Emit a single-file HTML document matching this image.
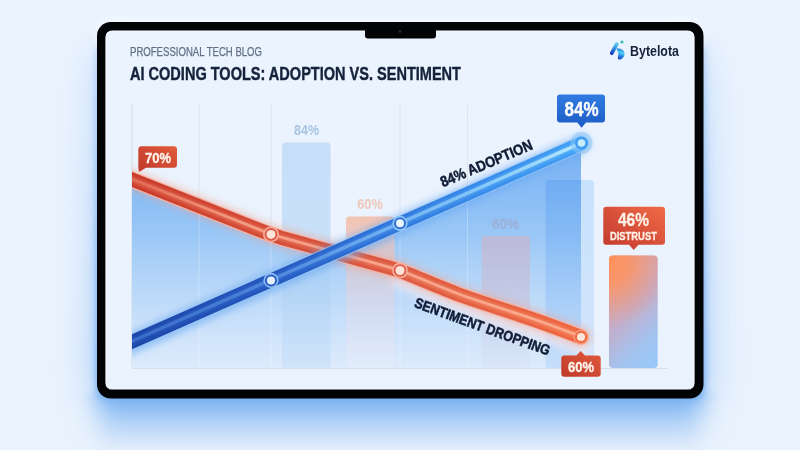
<!DOCTYPE html>
<html><head><meta charset="utf-8"><title>AI Coding Tools: Adoption vs. Sentiment</title>
<style>
html,body{margin:0;padding:0;width:800px;height:450px;overflow:hidden;background:#e9f2fd;}
svg{display:block;}
text{font-family:"Liberation Sans",Arial,sans-serif;}
</style></head>
<body>
<svg width="800" height="450" viewBox="0 0 800 450">
<defs>
  <linearGradient id="bg" x1="0" y1="0" x2="0" y2="1">
    <stop offset="0" stop-color="#ebf3fe"/>
    <stop offset="1" stop-color="#e9f2fd"/>
  </linearGradient>
  <filter id="blur8" x="-30%" y="-30%" width="160%" height="160%"><feGaussianBlur stdDeviation="19"/></filter>
  <linearGradient id="glowV" x1="0" y1="392" x2="0" y2="454" gradientUnits="userSpaceOnUse">
    <stop offset="0" stop-color="#6eaaf0"/>
    <stop offset="0.12" stop-color="#7cb3f1"/>
    <stop offset="0.5" stop-color="#b3d3f7"/>
    <stop offset="0.85" stop-color="#dde9fb"/>
    <stop offset="1" stop-color="#e6effc"/>
  </linearGradient>
  <linearGradient id="sideGlow" x1="0" y1="50" x2="0" y2="402" gradientUnits="userSpaceOnUse">
    <stop offset="0" stop-color="#5a9ef0" stop-opacity="0.45"/>
    <stop offset="0.5" stop-color="#5a9ef0" stop-opacity="0.8"/>
    <stop offset="1" stop-color="#5a9ef0" stop-opacity="1"/>
  </linearGradient>
  <filter id="blurH" x="-10%" y="-10%" width="120%" height="120%"><feGaussianBlur stdDeviation="12 3"/></filter>
  <filter id="blur16" x="-30%" y="-60%" width="160%" height="220%"><feGaussianBlur stdDeviation="13"/></filter>
  <clipPath id="chartClip"><rect x="132" y="90" width="560" height="300"/></clipPath>
  <filter id="blur20" x="-30%" y="-30%" width="160%" height="160%"><feGaussianBlur stdDeviation="14"/></filter>
  <filter id="blur3" x="-20%" y="-20%" width="140%" height="140%"><feGaussianBlur stdDeviation="3"/></filter>
  <filter id="blur2" x="-20%" y="-20%" width="140%" height="140%"><feGaussianBlur stdDeviation="2"/></filter>
  <filter id="blur05" x="-20%" y="-20%" width="140%" height="140%"><feGaussianBlur stdDeviation="0.5"/></filter>
  <filter id="blur07" x="-20%" y="-20%" width="140%" height="140%"><feGaussianBlur stdDeviation="0.7"/></filter>
  <filter id="blur4" x="-20%" y="-20%" width="140%" height="140%"><feGaussianBlur stdDeviation="4"/></filter>
  <filter id="blur1" x="-20%" y="-20%" width="140%" height="140%"><feGaussianBlur stdDeviation="1"/></filter>
  <linearGradient id="screen" x1="0" y1="0" x2="0" y2="1">
    <stop offset="0" stop-color="#eaf3fe"/>
    <stop offset="1" stop-color="#e9f2fd"/>
  </linearGradient>
  <linearGradient id="area" x1="0" y1="140" x2="0" y2="368" gradientUnits="userSpaceOnUse">
    <stop offset="0" stop-color="#74adf2"/>
    <stop offset="0.26" stop-color="#8bbef5"/>
    <stop offset="0.4" stop-color="#98c6f6"/>
    <stop offset="0.53" stop-color="#aad0f7"/>
    <stop offset="0.8" stop-color="#c9e0fa"/>
    <stop offset="1" stop-color="#ddebfc"/>
  </linearGradient>
  <linearGradient id="blueLine" x1="132" y1="0" x2="581" y2="0" gradientUnits="userSpaceOnUse">
    <stop offset="0" stop-color="#1d46a8"/>
    <stop offset="0.3" stop-color="#2556be"/>
    <stop offset="0.55" stop-color="#2f74da"/>
    <stop offset="0.8" stop-color="#388ced"/>
    <stop offset="1" stop-color="#42a0f5"/>
  </linearGradient>
  <linearGradient id="blueHi" x1="132" y1="0" x2="581" y2="0" gradientUnits="userSpaceOnUse">
    <stop offset="0" stop-color="#3d6fcb"/>
    <stop offset="0.3" stop-color="#5088dc"/>
    <stop offset="0.55" stop-color="#74b4f3"/>
    <stop offset="0.8" stop-color="#90d0fa"/>
    <stop offset="1" stop-color="#c0eefe"/>
  </linearGradient>
  <linearGradient id="redLine" x1="132" y1="0" x2="581" y2="0" gradientUnits="userSpaceOnUse">
    <stop offset="0" stop-color="#c93a2b"/>
    <stop offset="0.35" stop-color="#d44e39"/>
    <stop offset="0.6" stop-color="#db5a43"/>
    <stop offset="1" stop-color="#ef6741"/>
  </linearGradient>
  <linearGradient id="redMid" x1="132" y1="0" x2="581" y2="0" gradientUnits="userSpaceOnUse">
    <stop offset="0" stop-color="#dd5e47"/>
    <stop offset="0.5" stop-color="#e97459"/>
    <stop offset="1" stop-color="#f8885e"/>
  </linearGradient>
  <linearGradient id="blueMid" x1="132" y1="0" x2="581" y2="0" gradientUnits="userSpaceOnUse">
    <stop offset="0" stop-color="#2654ba"/>
    <stop offset="0.3" stop-color="#3268cc"/>
    <stop offset="0.55" stop-color="#448ce6"/>
    <stop offset="1" stop-color="#5ebaf9"/>
  </linearGradient>
  <linearGradient id="redHi" x1="132" y1="0" x2="581" y2="0" gradientUnits="userSpaceOnUse">
    <stop offset="0" stop-color="#f9aa92" stop-opacity="0.25"/>
    <stop offset="0.25" stop-color="#f9aa92" stop-opacity="0.9"/>
    <stop offset="1" stop-color="#fab096" stop-opacity="1"/>
  </linearGradient>
  <linearGradient id="redBox" x1="0" y1="1" x2="1" y2="0">
    <stop offset="0" stop-color="#bf3829"/>
    <stop offset="1" stop-color="#e25c3c"/>
  </linearGradient>
  <filter id="shRed" x="-40%" y="-40%" width="180%" height="180%"><feDropShadow dx="0" dy="1.5" stdDeviation="2.2" flood-color="#e8583c" flood-opacity="0.45"/></filter>
  <filter id="shBlue" x="-40%" y="-40%" width="180%" height="180%"><feDropShadow dx="0" dy="1.5" stdDeviation="2.2" flood-color="#2f7ae0" flood-opacity="0.4"/></filter>
  <linearGradient id="redBox2" x1="1" y1="0" x2="0" y2="1">
    <stop offset="0" stop-color="#f06c46"/>
    <stop offset="0.5" stop-color="#d9503a"/>
    <stop offset="1" stop-color="#c13a2c"/>
  </linearGradient>
  <linearGradient id="blueBox" x1="0" y1="0" x2="0" y2="1">
    <stop offset="0" stop-color="#2f7ae0"/>
    <stop offset="1" stop-color="#1e5cc6"/>
  </linearGradient>
  <linearGradient id="barA" x1="0" y1="0" x2="0" y2="1">
    <stop offset="0" stop-color="#9cc6f2"/>
    <stop offset="0.5" stop-color="#a2caf3"/>
    <stop offset="1" stop-color="#c0dbf7"/>
  </linearGradient>
  <linearGradient id="barB" x1="0" y1="0" x2="0" y2="1">
    <stop offset="0" stop-color="#f3bea8" stop-opacity="0.9"/>
    <stop offset="0.3" stop-color="#ecc5c0" stop-opacity="0.6"/>
    <stop offset="0.6" stop-color="#e4d8e6" stop-opacity="0.45"/>
    <stop offset="1" stop-color="#eceef8" stop-opacity="0.35"/>
  </linearGradient>
  <linearGradient id="barC" x1="0" y1="0" x2="0" y2="1">
    <stop offset="0" stop-color="#bdb9d6" stop-opacity="0.95"/>
    <stop offset="0.5" stop-color="#c6c6e0" stop-opacity="0.7"/>
    <stop offset="1" stop-color="#d6def2" stop-opacity="0.3"/>
  </linearGradient>
  <linearGradient id="barD" x1="0" y1="0" x2="0" y2="1">
    <stop offset="0" stop-color="#dbeefd"/>
    <stop offset="1" stop-color="#e6f2fe"/>
  </linearGradient>
  <linearGradient id="barE" x1="0.3" y1="0" x2="0.7" y2="1">
    <stop offset="0" stop-color="#e0a29e"/>
    <stop offset="0.45" stop-color="#c4acc8"/>
    <stop offset="0.8" stop-color="#a5c2ee"/>
    <stop offset="1" stop-color="#9ac8f6"/>
  </linearGradient>
  <radialGradient id="barEo" cx="609" cy="262" r="60" gradientUnits="userSpaceOnUse" gradientTransform="translate(609 262) scale(1 1.1) translate(-609 -262)">
    <stop offset="0" stop-color="#ff915c" stop-opacity="1"/>
    <stop offset="0.35" stop-color="#fb9463" stop-opacity="0.85"/>
    <stop offset="1" stop-color="#f09a80" stop-opacity="0"/>
  </radialGradient>
  <linearGradient id="logoG1" x1="616.8" y1="44" x2="611.8" y2="53.5" gradientUnits="userSpaceOnUse">
    <stop offset="0" stop-color="#5cc6ea"/>
    <stop offset="0.5" stop-color="#2f8ee0"/>
    <stop offset="1" stop-color="#1b3cc0"/>
  </linearGradient>
  <linearGradient id="logoG2" x1="622" y1="49" x2="619" y2="60" gradientUnits="userSpaceOnUse">
    <stop offset="0" stop-color="#2a7fe0"/>
    <stop offset="0.35" stop-color="#52d0f2"/>
    <stop offset="0.6" stop-color="#2a86e6"/>
    <stop offset="1" stop-color="#1a3cc0"/>
  </linearGradient>
</defs>

<!-- background -->
<rect width="800" height="450" fill="url(#bg)"/>
<!-- glow under tablet -->
<rect x="96" y="50" width="609" height="352" rx="16" fill="url(#sideGlow)" opacity="0.55" filter="url(#blur8)"/>
<rect x="97" y="40" width="607" height="360" rx="14" fill="url(#sideGlow)" filter="url(#blur4)"/>
<rect x="97" y="20" width="606" height="30" rx="14" fill="#ffffff" opacity="0.7" filter="url(#blur4)"/>
<rect x="100" y="392" width="600" height="62" fill="url(#glowV)" filter="url(#blurH)"/>

<!-- tablet frame -->
<rect x="97" y="22" width="606.5" height="376.5" rx="14" fill="#020305"/>
<rect x="106" y="31" width="588" height="358" rx="6" fill="url(#screen)" stroke="#f6faff" stroke-width="1.2"/>
<!-- notch -->
<path d="M365,30 L436,30 L436,35.5 Q436,38.5 433,38.5 L368,38.5 Q365,38.5 365,35.5 Z" fill="#020305"/>
<circle cx="400" cy="31.5" r="1.2" fill="#2a3140"/>

<!-- header text -->
<text x="130" y="55.5" font-size="12" fill="#627084" stroke="#627084" stroke-width="0.25" textLength="132" lengthAdjust="spacingAndGlyphs">PROFESSIONAL TECH BLOG</text>
<text x="130" y="79.5" font-size="17.5" font-weight="bold" fill="#15223b" stroke="#15223b" stroke-width="0.4" textLength="331" lengthAdjust="spacingAndGlyphs">AI CODING TOOLS: ADOPTION VS. SENTIMENT</text>

<!-- logo -->
<g>
  <path d="M616.8,44.2 L611.8,53.2" stroke="url(#logoG1)" stroke-width="3.8" stroke-linecap="round" fill="none"/>
  <path d="M617.2,48.2 C621.5,48.4 624.8,50.8 624.6,54 C624.4,57 622,59.4 619.6,59.6 C618.2,59.7 617.6,58.6 617.9,57.2 L618.3,54.5 C618.4,53 617.6,51.2 617,50.2 C616.5,49.2 616.4,48.2 617.2,48.2 Z" fill="url(#logoG2)"/>
  <circle cx="622" cy="42" r="1.6" fill="#3cc2b4"/>
</g>
<text x="630" y="56" font-size="14" font-weight="bold" fill="#172238" textLength="49" lengthAdjust="spacingAndGlyphs">Bytelota</text>

<!-- grid -->
<g stroke="#d6dee8" stroke-width="1">
  <line x1="132" y1="104" x2="132" y2="368"/>
  <line x1="199" y1="104" x2="199" y2="368"/>
  <line x1="271" y1="104" x2="271" y2="368"/>
  <line x1="400" y1="104" x2="400" y2="368"/>
  <line x1="467.5" y1="104" x2="467.5" y2="368"/>
  <line x1="132" y1="368.5" x2="668" y2="368.5"/>
</g>

<!-- area fill under upper envelope -->
<path d="M132,179.5 L271,234.4 L334.8,252.3 L581,143.6 L581,368 L132,368 Z" fill="url(#area)"/>

<g stroke="#ffffff" stroke-width="1" opacity="0.25">
  <line x1="199" y1="104" x2="199" y2="368"/>
  <line x1="271" y1="104" x2="271" y2="368"/>
  <line x1="400" y1="104" x2="400" y2="368"/>
  <line x1="467.5" y1="104" x2="467.5" y2="368"/>
</g>
<!-- bars -->
<rect x="282" y="142.4" width="48.5" height="225.6" rx="3.5" fill="url(#barA)" opacity="0.45"/>
<rect x="346" y="216.5" width="48.5" height="151.5" rx="3.5" fill="url(#barB)"/>
<rect x="481.6" y="236" width="48.4" height="132" rx="3.5" fill="url(#barC)"/>
<rect x="545.5" y="180" width="48.5" height="188" rx="3.5" fill="url(#barD)" style="mix-blend-mode:multiply"/>
<rect x="609" y="255.5" width="48.7" height="112.5" rx="4" fill="url(#barE)"/>
<rect x="609" y="255.5" width="48.7" height="112.5" rx="4" fill="url(#barEo)"/>

<!-- bar value labels -->
<text x="306.5" y="135" font-size="14" font-weight="bold" fill="#a9c5e3" text-anchor="middle" textLength="25" lengthAdjust="spacingAndGlyphs">84%</text>
<text x="370" y="209" font-size="14" font-weight="bold" fill="#f0c8ba" text-anchor="middle" textLength="25.5" lengthAdjust="spacingAndGlyphs">60%</text>
<text x="505.5" y="229" font-size="14" font-weight="bold" fill="#9cb2da" stroke="#9cb2da" stroke-width="0.3" text-anchor="middle" textLength="27" lengthAdjust="spacingAndGlyphs">60%</text>

<g clip-path="url(#chartClip)">
<!-- red line -->
<path transform="translate(0,9)" d="M400,270.5 C430,283 445,289.5 460,295 C480,302 500,308.5 520,315 C540,321.5 560,329 581,337" fill="none" stroke="#f1eaf3" stroke-width="18" stroke-linecap="round" opacity="0.75" filter="url(#blur4)"/>
<path d="M122,175.5 L262,231.1 Q271,234.6 280,237.4 L390,267.8 Q400,270.5 410,274.7 C430,283 445,289.5 460,295 C480,302 500,308.5 520,315 C540,321.5 560,329 581,337" fill="none" stroke="#f4a08a" stroke-width="22" stroke-linecap="round" stroke-linejoin="round" opacity="0.4" filter="url(#blur3)"/>
<path d="M122,175.5 L262,231.1 Q271,234.6 280,237.4 L390,267.8 Q400,270.5 410,274.7 C430,283 445,289.5 460,295 C480,302 500,308.5 520,315 C540,321.5 560,329 581,337" fill="none" stroke="#f6b3a3" stroke-width="16.5" stroke-linecap="round" stroke-linejoin="round" opacity="0.9" filter="url(#blur07)"/>
<path d="M122,175.5 L262,231.1 Q271,234.6 280,237.4 L390,267.8 Q400,270.5 410,274.7 C430,283 445,289.5 460,295 C480,302 500,308.5 520,315 C540,321.5 560,329 581,337" fill="none" stroke="url(#redLine)" stroke-width="14" stroke-linecap="round" stroke-linejoin="round"/>
<path d="M122,175.5 L262,231.1 Q271,234.6 280,237.4 L390,267.8 Q400,270.5 410,274.7 C430,283 445,289.5 460,295 C480,302 500,308.5 520,315 C540,321.5 560,329 581,337" fill="none" stroke="url(#redMid)" stroke-width="7" stroke-linecap="round" stroke-linejoin="round" opacity="0.8" filter="url(#blur1)"/>
<path transform="translate(0,-0.5)" d="M122,175.5 L262,231.1 Q271,234.6 280,237.4 L390,267.8 Q400,270.5 410,274.7 C430,283 445,289.5 460,295 C480,302 500,308.5 520,315 C540,321.5 560,329 581,337" fill="none" stroke="url(#redHi)" stroke-width="2.8" stroke-linecap="round" stroke-linejoin="round" opacity="0.9" filter="url(#blur05)"/>
<circle cx="581" cy="337" r="6" fill="#f0683f"/>

<!-- blue line -->
<line x1="122" y1="346.1" x2="581" y2="143.6" stroke="#4d94ee" stroke-width="20" stroke-linecap="round" opacity="0.35" filter="url(#blur3)"/>
<line x1="122" y1="352" x2="575" y2="152" stroke="#7db6f4" stroke-width="12" opacity="0.55" filter="url(#blur4)"/>
<line x1="122" y1="346.1" x2="581" y2="143.6" stroke="#9ccaf6" stroke-width="16" stroke-linecap="round" opacity="0.6" filter="url(#blur07)"/>
<line x1="122" y1="346.1" x2="581" y2="143.6" stroke="url(#blueLine)" stroke-width="13.8" stroke-linecap="round"/>
<line x1="122" y1="346.1" x2="581" y2="143.6" stroke="url(#blueMid)" stroke-width="7" stroke-linecap="round" opacity="0.75" filter="url(#blur1)"/>
<line x1="122" y1="345.6" x2="581" y2="143.1" stroke="url(#blueHi)" stroke-width="3.4" opacity="0.9" filter="url(#blur07)"/>

</g>
<!-- nodes -->
<g>
  <circle cx="271" cy="234.4" r="8" fill="#f6aa9a"/>
  <circle cx="271" cy="234.4" r="6.3" fill="#dc5843"/>
  <circle cx="271" cy="234.4" r="4.5" fill="#fde3d9"/>
  <circle cx="400" cy="270.5" r="8" fill="#f6aa9a"/>
  <circle cx="400" cy="270.5" r="6.3" fill="#e1604a"/>
  <circle cx="400" cy="270.5" r="4.5" fill="#fde3d9"/>
  <circle cx="581" cy="337" r="7.5" fill="#f7a38a" opacity="0.7"/>
  <circle cx="581" cy="337" r="6" fill="#f06a42"/>
  <circle cx="581" cy="337" r="4" fill="#fde6da"/>

  <circle cx="271" cy="280.4" r="7.6" fill="#8dbaf2"/>
  <circle cx="271" cy="280.4" r="6" fill="#2a5ec4"/>
  <circle cx="271" cy="280.4" r="4" fill="#e6f0fd"/>
  <circle cx="400" cy="223.3" r="7.6" fill="#93c8f6"/>
  <circle cx="400" cy="223.3" r="6" fill="#2f72d8"/>
  <circle cx="400" cy="223.3" r="4" fill="#eaf5fe"/>
  <circle cx="581.5" cy="143" r="11" fill="#8cc4f6" opacity="0.55"/>
  <circle cx="581.5" cy="143" r="6.5" fill="#3f9df2"/>
  <circle cx="581.5" cy="143" r="3.8" fill="#c7ecfc"/>
</g>

<!-- labels on lines -->
<text transform="translate(443,187.3) rotate(-23)" font-size="15" font-weight="bold" fill="#111c35" stroke="#111c35" stroke-width="0.5" textLength="98.5" lengthAdjust="spacingAndGlyphs">84% ADOPTION</text>
<text transform="translate(413.5,306.8) rotate(20)" font-size="14.5" font-weight="bold" fill="#111c35" stroke="#111c35" stroke-width="0.5" textLength="143" lengthAdjust="spacingAndGlyphs">SENTIMENT DROPPING</text>

<!-- callouts -->
<g>
  <path d="M141.3,146.3 L174,146.3 Q177,146.3 177,149.3 L177,164.7 Q177,167.7 174,167.7 L146,167.7 L139,172 L138.3,167 L138.3,149.3 Q138.3,146.3 141.3,146.3 Z" fill="url(#redBox)"/>
  <text x="158" y="163" font-size="15" font-weight="bold" fill="#fff3ec" stroke="#fff3ec" stroke-width="0.35" text-anchor="middle" textLength="26" lengthAdjust="spacingAndGlyphs">70%</text>

  <path d="M560,94.6 L602,94.6 Q605,94.6 605,97.6 L605,119.4 Q605,122.4 602,122.4 L586,122.4 L581.6,127.8 L577.2,122.4 L560,122.4 Q557,122.4 557,119.4 L557,97.6 Q557,94.6 560,94.6 Z" fill="url(#blueBox)"/>
  <text x="581.6" y="116.1" font-size="20" font-weight="bold" fill="#ffffff" stroke="#ffffff" stroke-width="0.35" text-anchor="middle" textLength="34" lengthAdjust="spacingAndGlyphs">84%</text>

  <path d="M606.3,206.7 L662,206.7 Q665,206.7 665,209.7 L665,241.7 Q665,244.7 662,244.7 L638.5,244.7 L633.7,250 L629,244.7 L606.3,244.7 Q603.3,244.7 603.3,241.7 L603.3,209.7 Q603.3,206.7 606.3,206.7 Z" fill="url(#redBox2)"/>
  <text x="633.5" y="226" font-size="17.5" font-weight="bold" fill="#fff0e6" stroke="#fff0e6" stroke-width="0.3" text-anchor="middle" textLength="31" lengthAdjust="spacingAndGlyphs">46%</text>
  <text x="633.4" y="240" font-size="11.5" font-weight="bold" fill="#fff0e6" stroke="#fff0e6" stroke-width="0.3" text-anchor="middle" textLength="47" lengthAdjust="spacingAndGlyphs">DISTRUST</text>

  <path d="M564.3,355.4 L576.5,355.4 L580.7,351 L585,355.4 L597.7,355.4 Q600.7,355.4 600.7,358.4 L600.7,373.7 Q600.7,376.7 597.7,376.7 L564.3,376.7 Q561.3,376.7 561.3,373.7 L561.3,358.4 Q561.3,355.4 564.3,355.4 Z" fill="url(#redBox)"/>
  <text x="581" y="372.3" font-size="15" font-weight="bold" fill="#fff3ec" stroke="#fff3ec" stroke-width="0.35" text-anchor="middle" textLength="26" lengthAdjust="spacingAndGlyphs">60%</text>
</g>
</svg>
</body></html>
